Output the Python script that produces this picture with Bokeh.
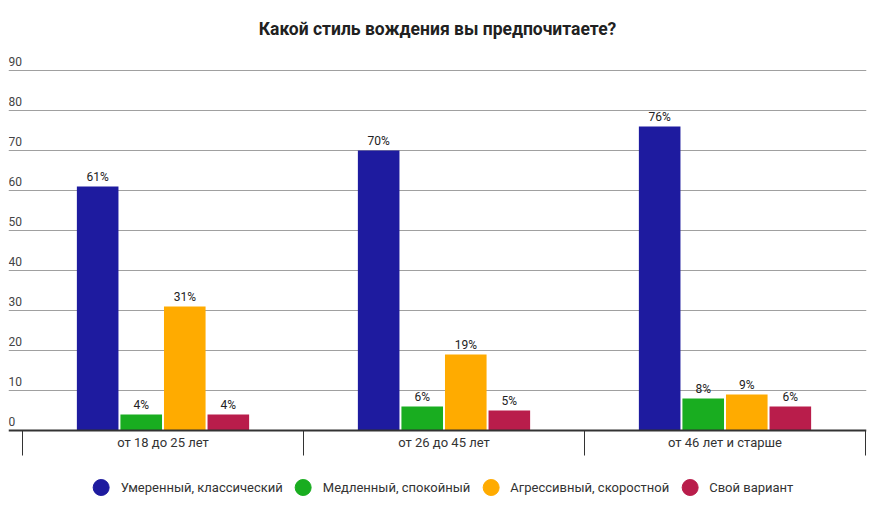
import numpy as np
from bokeh.plotting import figure
from bokeh.models import (Range1d, FixedTicker, Grid, Legend, LegendItem,
                          ColumnDataSource, Span)
from bokeh.core.properties import value
from bokeh.embed import file_html
from bokeh.resources import INLINE

# ---- data ----
title_text = "Какой стиль вождения вы предпочитаете?"
categories = ["от 18 до 25 лет", "от 26 до 45 лет", "от 46 лет и старше"]
series_names = ["Умеренный, классический", "Медленный, спокойный",
                "Агрессивный, скоростной", "Свой вариант"]
moderate = [61, 70, 76]
slow = [4, 6, 8]
aggressive = [31, 19, 9]
own_variant = [4, 5, 6]
y_ticks = [0, 10, 20, 30, 40, 50, 60, 70, 80, 90]

# ---- styles ----
FONT = "Roboto"
colors = ["#1e1b9f", "#19ad20", "#ffab00", "#b91d4b"]
series = [moderate, slow, aggressive, own_variant]
n = len(categories)

x_start = -14 / 281
x_end = n + 1 / 281
p = figure(width=874, height=519, output_backend="svg", toolbar_location=None,
           x_range=Range1d(x_start, x_end), y_range=Range1d(-22.25, 95.5),
           x_axis_type=None, y_axis_type=None,
           min_border_left=8, min_border_right=8, min_border_top=48,
           min_border_bottom=0)
# range used only for legend glyph renderers (their points lie off-frame)
p.extra_y_ranges = {"legend_only": Range1d(start=1000, end=1001)}
p.outline_line_color = None
p.background_fill_color = "white"
p.border_fill_color = "white"

p.title.text = title_text
p.title.align = "center"
p.title.text_font = FONT
p.title.text_font_style = "bold"
p.title.text_font_size = "17.5px"
p.title.text_color = "#212121"
p.title.standoff = 19

p.add_layout(Grid(dimension=1, ticker=FixedTicker(ticks=y_ticks[1:]),
                  grid_line_color="#a0a0a0", grid_line_width=1))

# baseline (category axis line)
p.add_layout(Span(location=0, dimension="width", line_color="#333333",
                  line_width=2))
# category separators
bounds = list(range(n + 1))
p.segment(x0=bounds, y0=[0] * len(bounds), x1=bounds,
          y1=[-6.25] * len(bounds), line_color="#333333", line_width=1)
# category labels
p.text(x=[i + 0.5 for i in range(n)], y=[-3] * n, text=categories,
       text_align="center", text_baseline="middle", text_font=value(FONT),
       text_font_size="13px", text_color="#333333")

# y tick labels drawn above gridlines at the left
p.text(x=[x_start] * len(y_ticks), y=y_ticks, text=[str(t) for t in y_ticks],
       text_align="left", text_baseline="bottom", y_offset=-5,
       text_font=value(FONT), text_font_size="12px", text_color="#444444")

step = 0.155
bw = 0.148
items = []
for j, (name, vals, col) in enumerate(zip(series_names, series, colors)):
    xs = np.arange(n) + 0.5 + (j - 1.5) * step
    src = ColumnDataSource(dict(x=xs, top=vals, label=[f"{v}%" for v in vals]))
    p.vbar(x="x", top="top", bottom=0, width=bw, source=src,
           fill_color=col, line_color=None)
    p.text(x="x", y="top", text="label", source=src, text_align="center",
           text_baseline="bottom", y_offset=-2.5, text_font=value(FONT),
           text_font_size="12px", text_color="#222222")
    # legend-only circle marker (points fall outside the visible frame)
    r = p.scatter(x="x", y="top", source=src, marker="circle", size=16,
                  fill_color=col, line_color=col, y_range_name="legend_only")
    items.append(LegendItem(label=name, renderers=[r]))

legend = Legend(items=items, orientation="horizontal", location="bottom_center",
                glyph_width=40, glyph_height=40, label_standoff=-6, spacing=-4,
                padding=0, margin=12, border_line_color=None,
                background_fill_color=None, label_text_font=FONT,
                label_text_font_size="13px", label_text_color="#333333")
p.add_layout(legend)

open("out.html", "w").write(file_html(p, INLINE))
